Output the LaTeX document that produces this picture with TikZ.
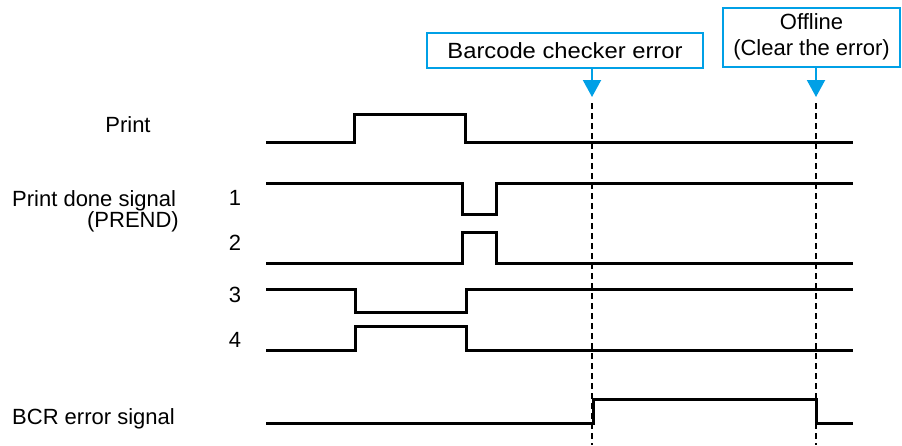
\documentclass[tikz,border=0pt]{standalone}
\usepackage{fontspec}
\setmainfont{Liberation Sans}
\newfontfamily\widesans[FakeStretch=1.08]{Liberation Sans}
\usepackage{xcolor}
\usepackage{tikz}
\usetikzlibrary{arrows.meta, positioning}
\definecolor{boxblue}{RGB}{0,160,230}

\begin{document}
\begin{tikzpicture}[
    x=1pt, y=-1pt,
    font=\fontsize{22}{26}\selectfont,
    tag/.style={inner sep=0pt},
    signal/.style={line width=3pt, line join=miter},
    event/.style={draw=boxblue, line width=2pt, fill=white, align=center, inner sep=0pt},
    pointer/.style={boxblue, line width=2pt, -{Triangle[width=18pt, length=17pt]}},
    marker/.style={line width=1.5pt, dash pattern=on 6pt off 4pt}
]
\useasboundingbox (0,0) rectangle (902,445);

\node[tag, anchor=base] (print) at (128,132) {Print};
\node[tag, anchor=base west] (prend) at (12,206) {Print done signal};
\node[tag, anchor=base east] (prendname) at (179,227) {(PREND)};
\node[tag, anchor=base] (n1) at (235,205) {1};
\node[tag, anchor=base] (n2) at (235,250) {2};
\node[tag, anchor=base] (n3) at (235,302) {3};
\node[tag, anchor=base] (n4) at (235,347) {4};
\node[tag, anchor=base west] (bcr) at (12,424) {BCR error signal};

\node[event, minimum width=276pt, minimum height=35pt, font=\widesans\fontsize{22}{26}\selectfont] (bce) at (565,50.5) {Barcode checker error};
\node[event, minimum width=177pt, minimum height=59pt] (offline) at (811.5,37) {Offline\\(Clear the error)};

\coordinate (tip1) at (592,97);
\coordinate (tip2) at (816,97);
\coordinate (dash1) at (592,103);
\coordinate (dash2) at (816,103);
\coordinate (foot1) at (592,445);
\coordinate (foot2) at (816,445);

\draw[pointer] (bce.south -| tip1) -- (tip1);
\draw[pointer] (offline.south -| tip2) -- (tip2);
\draw[marker] (dash1) -- (foot1);
\draw[marker] (dash2) -- (foot2);

% timing lines
\draw[signal] (266,142) -| (354,114) -| (465,142) -- (853,142);
\draw[signal] (266,183) -| (462,214) -| (496,183) -- (853,183);
\draw[signal] (266,263) -| (462,232) -| (496,263) -- (853,263);
\draw[signal] (266,289) -| (355,312) -| (466,289) -- (853,289);
\draw[signal] (266,350) -| (355,326) -| (466,350) -- (853,350);
\draw[signal] (266,423) -| (593,399) -| (816,423) -- (853,423);

\end{tikzpicture}
\end{document}
